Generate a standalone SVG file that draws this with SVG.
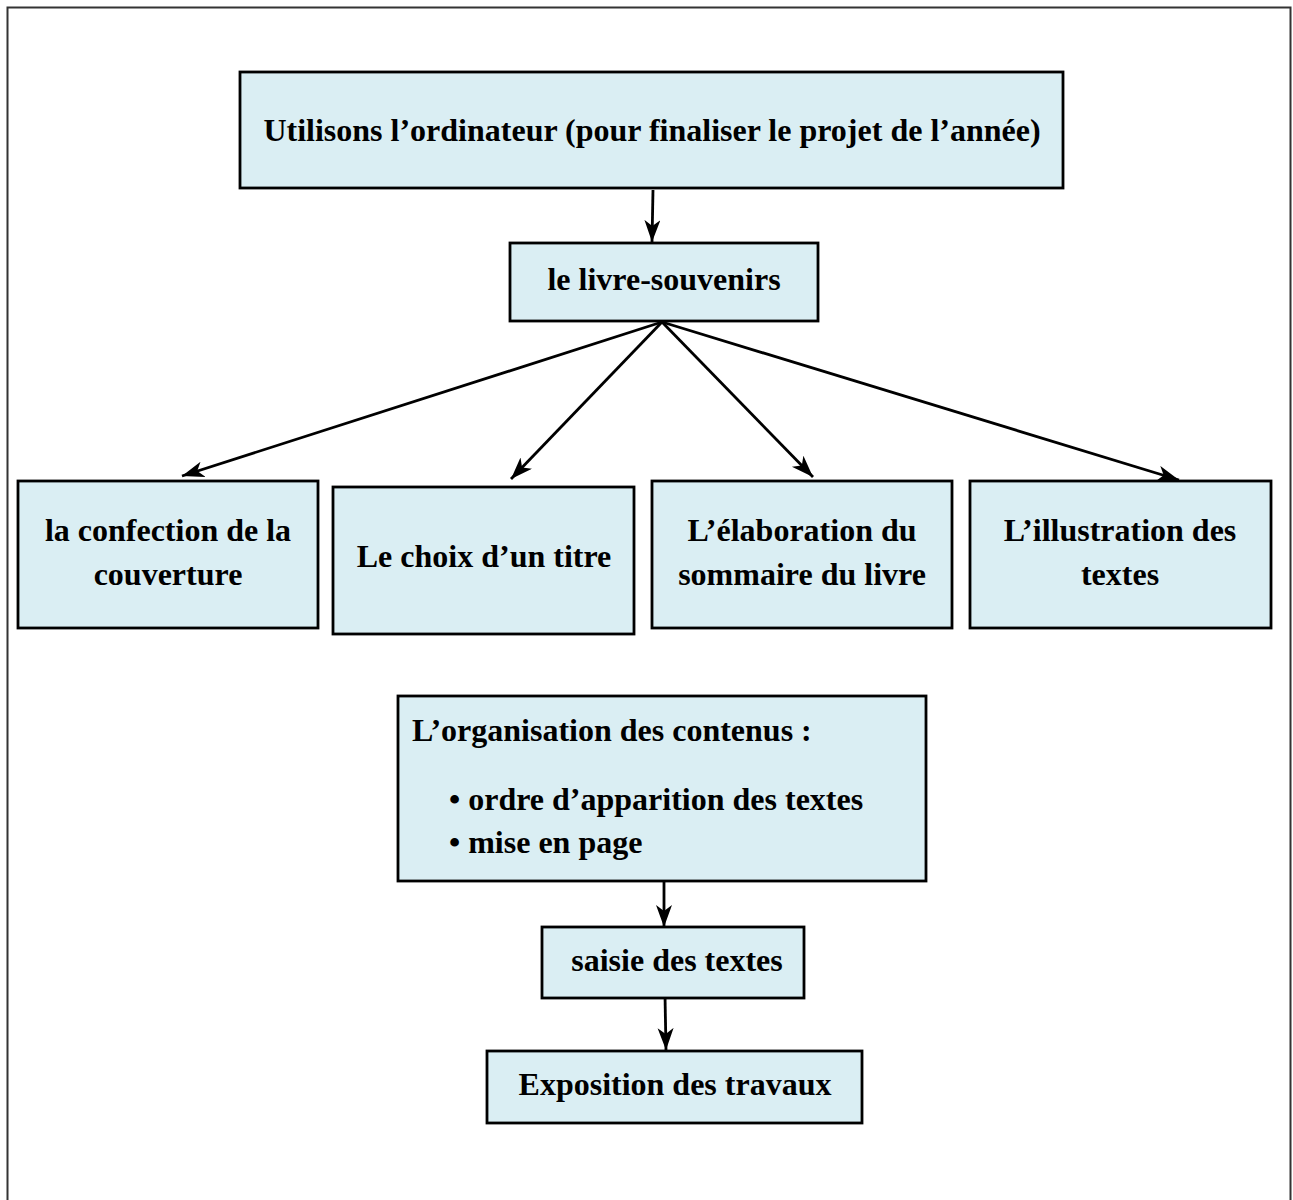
<svg xmlns="http://www.w3.org/2000/svg" width="1293" height="1200" viewBox="0 0 1293 1200">
<defs>
<marker id="arr" markerUnits="userSpaceOnUse" markerWidth="26" markerHeight="20" refX="22" refY="8" orient="auto">
<path d="M0,0 L22,8 L0,16 L6,8 Z" fill="#000"/>
</marker>
<style>
.box{fill:#DAEEF3;stroke:#000;stroke-width:2.8}
.t{font-family:"Liberation Serif","Times New Roman",serif;font-weight:bold;font-size:32px;fill:#000}
.c{text-anchor:middle}
.ln{stroke:#000;stroke-width:2.8;fill:none;marker-end:url(#arr)}
</style>
</defs>
<rect x="0" y="0" width="1293" height="1200" fill="#fff"/>
<rect x="7.5" y="7.5" width="1283" height="1260" fill="none" stroke="#333" stroke-width="2"/>
<g id="connectors">
<line class="ln" x1="653" y1="190" x2="652" y2="242"/>
<line class="ln" x1="662" y1="322" x2="182" y2="476"/>
<line class="ln" x1="662" y1="322" x2="511" y2="479"/>
<line class="ln" x1="662" y1="322" x2="813" y2="477"/>
<line class="ln" x1="662" y1="322" x2="1179" y2="480"/>
<line class="ln" x1="664" y1="882" x2="664" y2="927"/>
<line class="ln" x1="665" y1="995" x2="666" y2="1050"/>
</g>
<g id="n-top">
<rect class="box" x="240" y="72" width="823" height="116"/>
<text class="t c" x="652" y="141">Utilisons l’ordinateur (pour finaliser le projet de l’année)</text>
</g>
<g id="n-livre">
<rect class="box" x="510" y="243" width="308" height="78"/>
<text class="t c" x="664" y="290">le livre-souvenirs</text>
</g>
<g id="n-couverture">
<rect class="box" x="18" y="481" width="300" height="147"/>
<text class="t c" x="168" y="541">la confection de la</text>
<text class="t c" x="168" y="585">couverture</text>
</g>
<g id="n-titre">
<rect class="box" x="333" y="487" width="301" height="147"/>
<text class="t c" x="484" y="567">Le choix d’un titre</text>
</g>
<g id="n-sommaire">
<rect class="box" x="652" y="481" width="300" height="147"/>
<text class="t c" x="802" y="541">L’élaboration du</text>
<text class="t c" x="802" y="585">sommaire du livre</text>
</g>
<g id="n-illustration">
<rect class="box" x="970" y="481" width="301" height="147"/>
<text class="t c" x="1120" y="541">L’illustration des</text>
<text class="t c" x="1120" y="585">textes</text>
</g>
<g id="n-organisation">
<rect class="box" x="398" y="696" width="528" height="185"/>
<text class="t" x="412" y="741">L’organisation des contenus :</text>
<text class="t" x="449" y="810">• ordre d’apparition des textes</text>
<text class="t" x="449" y="853">• mise en page</text>
</g>
<g id="n-saisie">
<rect class="box" x="542" y="927" width="262" height="71"/>
<text class="t c" x="677" y="971">saisie des textes</text>
</g>
<g id="n-exposition">
<rect class="box" x="487" y="1051" width="375" height="72"/>
<text class="t c" x="675" y="1095">Exposition des travaux</text>
</g>
</svg>
